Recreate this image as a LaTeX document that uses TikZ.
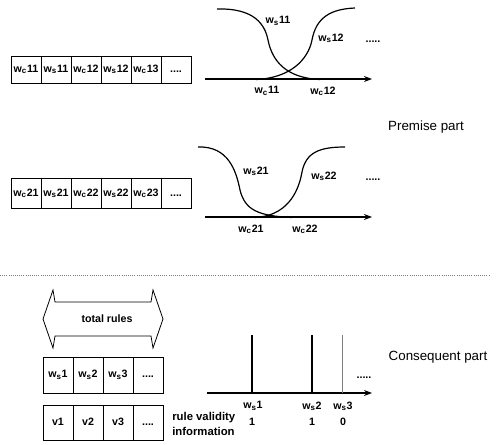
\documentclass[tikz,border=0pt]{standalone}
\usepackage{fontspec}
\setmainfont{Liberation Sans}
\usetikzlibrary{arrows.meta}
\newcommand\celldots{....}
\newcommand\wc[1]{w\textsubscript{c}#1}
\newcommand\ws[1]{w\textsubscript{s}#1}
\begin{document}
\begin{tikzpicture}[x=0.75pt,y=-0.75pt]
\tikzset{
 cell/.style={draw, line width=0.6pt, inner sep=0pt, minimum width=22.5pt,
   text height=6pt, text depth=2pt, font=\fontsize{8}{9}\selectfont\bfseries},
 lbl/.style={inner sep=0pt, font=\fontsize{8}{9}\selectfont\bfseries},
 curve/.style={line width=0.9pt},
 axis/.style={line width=1pt, -{Stealth[length=6pt,width=4.5pt]}},
 part/.style={inner sep=0pt, font=\fontsize{10}{12}\selectfont},
 spike/.style={line width=1pt},
}
\useasboundingbox (0,0) rectangle (499,445);

% ---- premise row 1 ----
\foreach \t [count=\i] in {\wc{11},\ws{11},\wc{12},\ws{12},\wc{13},\celldots}
  \node[cell, minimum height=20.25pt] (ra\i) at ({26+30*(\i-1)},69.5) {\t};
% ---- premise row 2 ----
\foreach \t [count=\i] in {\wc{21},\ws{21},\wc{22},\ws{22},\wc{23},\celldots}
  \node[cell, minimum height=23pt] (rb\i) at ({26+30*(\i-1)},193.5) {\t};

% ---- membership functions 1 ----
\coordinate (axa0) at (205,79);
\coordinate (axa1) at (372,79);
\draw[axis] (axa0) -- (axa1);
\draw[curve] (217,9) .. controls (255,8) and (265,25) .. (268,40)
  .. controls (272,60) and (285,78) .. (320,79.5);
\draw[curve] (256,79.5) .. controls (290,78) and (308,60) .. (312,40)
  .. controls (316,18) and (330,9) .. (355,8);
\node[lbl] (ls11) at (278,21) {\ws{11}};
\node[lbl] (ls12) at (331,38) {\ws{12}};
\node[lbl] (lc11) at (267,91) {\wc{11}};
\node[lbl] (lc12) at (323,91) {\wc{12}};
\node[lbl] (da) at (373,42) {.....};

% ---- membership functions 2 ----
\coordinate (axb0) at (205,217);
\coordinate (axb1) at (372,217);
\draw[axis] (axb0) -- (axb1);
\draw[curve] (198,147) .. controls (228,146) and (236,170) .. (240,190)
  .. controls (245,210) and (258,216) .. (292,217.5);
\draw[curve] (255,217.5) .. controls (285,216) and (298,195) .. (302,172)
  .. controls (306,152) and (320,147) .. (345,147);
\node[lbl] (ls21) at (256,171) {\ws{21}};
\node[lbl] (ls22) at (324,176) {\ws{22}};
\node[lbl] (lc21) at (251,229) {\wc{21}};
\node[lbl] (lc22) at (305,229) {\wc{22}};
\node[lbl] (db) at (373,180) {.....};

\node[part] (prem) at (426,127) {Premise part};

% ---- separator ----
\coordinate (sep0) at (0,275);
\coordinate (sep1) at (490,275);
\draw[densely dotted, gray, line width=0.6pt] (sep0) -- (sep1);

% ---- total rules double arrow ----
\draw[line width=0.6pt] (43,319) -- (53,290) -- (55,302) -- (151,302) -- (153,290)
  -- (163,319) -- (153,348) -- (151,336) -- (55,336) -- (53,348) -- cycle;
\node[lbl] (tot) at (107,319) {total rules};

% ---- consequent boxes ----
\foreach \t [count=\i] in {\ws{1},\ws{2},\ws{3},\celldots}
  \node[cell, minimum height=27pt] (rc\i) at ({58+30*(\i-1)},375) {\t};
\foreach \t [count=\i] in {v1,v2,v3,\celldots}
  \node[cell, minimum height=26.25pt] (rd\i) at ({58+30*(\i-1)},422.5) {\t};
\node[lbl, align=left, anchor=west, font=\fontsize{8.5}{11}\selectfont\bfseries] (rvi) at (172,424) {rule validity\\information};

% ---- consequent singletons ----
\coordinate (axc0) at (207,393);
\coordinate (axc1) at (372,393);
\draw[axis] (axc0) -- (axc1);
\coordinate (s1t) at (252,335); \coordinate (s1b) at (252,393);
\coordinate (s2t) at (312,335); \coordinate (s2b) at (312,393);
\coordinate (s3t) at (342,335); \coordinate (s3b) at (342,393);
\draw[spike] (s1t) -- (s1b);
\draw[spike] (s2t) -- (s2b);
\draw[line width=0.5pt, gray] (s3t) -- (s3b);
\node[lbl] (lw1) at (253,406) {\ws{1}};
\node[lbl] (lw2) at (312,406) {\ws{2}};
\node[lbl] (lw3) at (343,406) {\ws{3}};
\node[lbl] (n1) at (252,422) {1};
\node[lbl] (n2) at (312,422) {1};
\node[lbl] (n3) at (343,422) {0};
\node[lbl] (dc) at (364,378) {.....};
\node[part] (cons) at (438,357) {Consequent part};
\end{tikzpicture}
\end{document}
